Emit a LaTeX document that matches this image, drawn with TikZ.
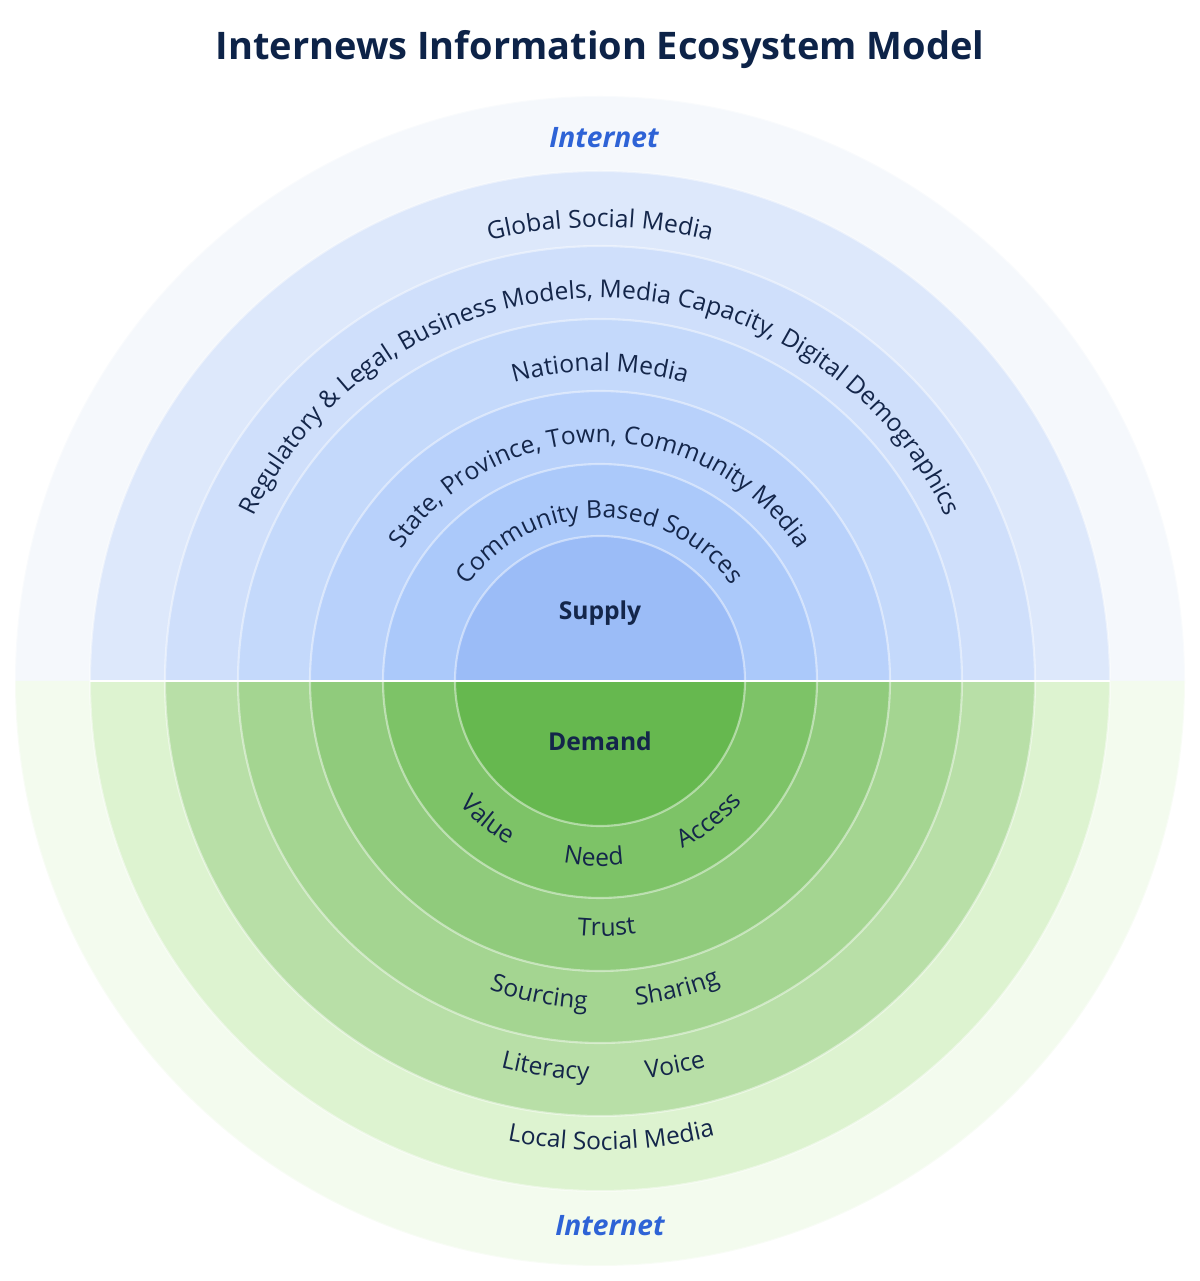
\documentclass[tikz,border=0pt]{standalone}
\usepackage{fontspec}
\setmainfont{Open Sans}
\setsansfont{Open Sans}
\usetikzlibrary{decorations.text}
\definecolor{ink}{HTML}{14264A}
\definecolor{title}{HTML}{0D2348}
\definecolor{inet}{HTML}{2E63D6}
\definecolor{b0}{HTML}{9BBCF7}
\definecolor{b1}{HTML}{ABC9FA}
\definecolor{b2}{HTML}{B8D1FB}
\definecolor{b3}{HTML}{C4D9FB}
\definecolor{b4}{HTML}{CFDFFB}
\definecolor{b5}{HTML}{DDE8FB}
\definecolor{b6}{HTML}{F5F8FC}
\definecolor{g0}{HTML}{66B84F}
\definecolor{g1}{HTML}{7DC367}
\definecolor{g2}{HTML}{90CB7C}
\definecolor{g3}{HTML}{A4D591}
\definecolor{g4}{HTML}{B8DFA7}
\definecolor{g5}{HTML}{DDF3D0}
\definecolor{g6}{HTML}{F3FBEE}
\newcommand\mytxt{\fontsize{7}{8}\selectfont\color{ink}}
\newcommand\toptxt[2]{\path[decorate,decoration={text along path,text align=center,text format delimiters={|}{|},text={|\mytxt|#2}}] (600,600) ++(180:#1) arc(180:0:#1);}
\newcommand\bottxt[3]{\path[decorate,decoration={text along path,text align=center,text format delimiters={|}{|},text={|\mytxt|#3}}] (600,600) ++({#2-60}:#1) arc({#2-60}:{#2+60}:#1);}
\tikzset{ring/.style={draw=white,draw opacity=0.45,line width=0.6pt}}
\begin{document}
\begin{tikzpicture}[x=0.01cm,y=0.01cm]
\useasboundingbox (0,0) rectangle (1200,1281);
\coordinate (c) at (600,600);
\foreach \r/\col in {585/b6,510/b5,435/b4,362/b3,290/b2,217/b1,145/b0}{
  \fill[\col] (c) ++(\r,0) arc(0:180:\r) -- cycle;
  \draw[ring] (c) ++(\r,0) arc(0:180:\r);
}
\foreach \r/\col in {585/g6,510/g5,435/g4,362/g3,290/g2,217/g1,145/g0}{
  \fill[\col] (c) ++(\r,0) arc(0:-180:\r) -- cycle;
  \draw[ring] (c) ++(\r,0) arc(0:-180:\r);
}
\draw[white,line width=0.8pt] (90,600) -- (1110,600);
\node[title,font=\bfseries\fontsize{10.8}{13}\selectfont] (t) at (600,1231) {Internews Information Ecosystem Model};
\node[inet,font=\bfseries\itshape\fontsize{8}{10}\selectfont] (i1) at (604,1143) {Internet};
\node[inet,font=\bfseries\itshape\fontsize{8}{10}\selectfont] (i2) at (610,55) {Internet};
\node[ink,font=\bfseries\fontsize{7}{9}\selectfont] (s) at (600,668) {Supply};
\node[ink,font=\bfseries\fontsize{7}{9}\selectfont] (d) at (600,540) {Demand};
\toptxt{454}{Global Social Media}
\toptxt{383}{Regulatory {\&} Legal{,} Business Models{,} Media Capacity{,} Digital Demographics}
\toptxt{310}{National Media}
\toptxt{238}{State{,} Province{,} Town{,} Community Media}
\toptxt{163}{Community Based Sources}
\bottxt{187}{231}{Value}
\bottxt{185}{268}{Need}
\bottxt{187}{308}{Access}
\bottxt{255}{271.5}{Trust}
\bottxt{328}{259}{Sourcing}
\bottxt{326}{284}{Sharing}
\bottxt{399}{262}{Literacy}
\bottxt{400}{281}{Voice}
\bottxt{469}{271.4}{Local Social Media}
\end{tikzpicture}
\end{document}
